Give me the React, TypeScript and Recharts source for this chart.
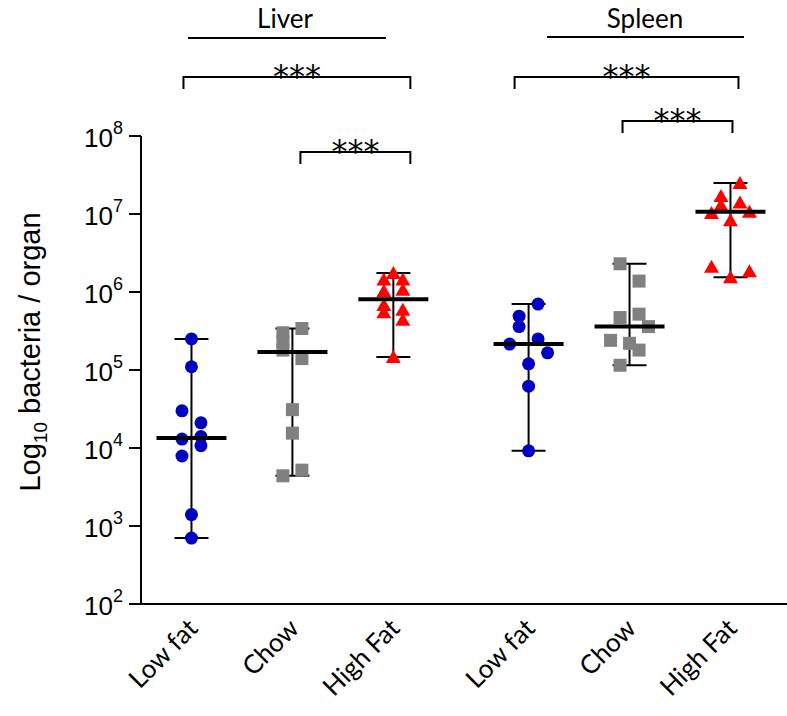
import React from 'react';
import { ScatterChart, Scatter, XAxis, YAxis } from 'recharts';

// ---- data ----
const categories = ['Low fat', 'Chow', 'High Fat', 'Low fat', 'Chow', 'High Fat'];
const organs = ['Liver', 'Spleen'];
const yTicks = [1e2, 1e3, 1e4, 1e5, 1e6, 1e7, 1e8];

// bacteria per organ, one value per mouse, with its jitter lane (-2..2)
const liverLowFat = [2.5e5, 1.1e5, 3.0e4, 2.1e4, 1.3e4, 1.4e4, 1.07e4, 7.9e3, 1.4e3, 7.0e2];
const liverLowFatLanes = [0, 0, -1, 1, -1, 1, 1, -1, 0, 0];
const liverChow = [3.4e5, 3.0e5, 2.3e5, 1.8e5, 1.4e5, 3.1e4, 1.55e4, 5.2e3, 4.4e3];
const liverChowLanes = [1, -1, -1, -1, 1, 0, 0, 1, -1];
const liverHighFat = [1.75e6, 1.45e6, 1.45e6, 1.03e6, 1.07e6, 6.8e5, 5.5e5, 5.9e5, 4.4e5, 1.47e5];
const liverHighFatLanes = [0, -1, 1, -1, 1, -1, -1, 1, 1, 0];
const spleenLowFat = [7.0e5, 4.9e5, 3.6e5, 2.15e5, 2.5e5, 1.66e5, 1.2e5, 6.2e4, 9.2e3];
const spleenLowFatLanes = [1, -1, -1, -2, 1, 2, 0, 0, 0];
const spleenChow = [2.3e6, 1.38e6, 4.7e5, 5.2e5, 3.6e5, 2.4e5, 2.2e5, 1.8e5, 1.15e5];
const spleenChowLanes = [-1, 1, -1, 1, 2, -2, 0, 1, -1];
const spleenHighFat = [2.5e7, 1.7e7, 1.4e7, 1.3e7, 1.07e7, 1.03e7, 8.3e6, 2.1e6, 1.85e6, 1.55e6];
const spleenHighFatLanes = [1, -1, 1, -1, 2, -2, 0, -2, 2, 0];

const medians = [1.34e4, 1.7e5, 8.1e5, 2.15e5, 3.6e5, 1.07e7];

// significance brackets between categories
const brackets = [
  { from: 0, to: 2, label: '***' },
  { from: 1, to: 2, label: '***' },
  { from: 3, to: 5, label: '***' },
  { from: 4, to: 5, label: '***' },
];

// ---- layout ----
const W = 787;
const H = 716;
const PLOT_LEFT = 141;
const PLOT_TOP = 136;
const PLOT_BOTTOM = 604;
const X_MIN = -0.5;
const X_MAX = 5.9;
const GROUP_GAP = 0.34;
const LANE = 0.094;

const catPos = categories.map((_, i) => i + (i >= 3 ? GROUP_GAP : 0));
const xPx = (p: number) => PLOT_LEFT + ((p - X_MIN) / (X_MAX - X_MIN)) * (W - PLOT_LEFT);

const BLUE = '#0000C0';
const GREY = '#808080';
const RED = '#FF0000';

const circle = (p: any) => <circle cx={p.cx} cy={p.cy} r={6.5} fill={BLUE} />;
const square = (p: any) => <rect x={p.cx - 6.5} y={p.cy - 6.5} width={13} height={13} fill={GREY} />;
const triangle = (p: any) => (
  <polygon
    points={`${p.cx},${p.cy - 7} ${p.cx + 7.5},${p.cy + 6} ${p.cx - 7.5},${p.cy + 6}`}
    fill={RED}
  />
);
const cap = (p: any) => (
  <line x1={p.cx - 17} x2={p.cx + 17} y1={p.cy} y2={p.cy} stroke="#000" strokeWidth={2} />
);
const medianBar = (p: any) => (
  <line x1={p.cx - 35} x2={p.cx + 35} y1={p.cy} y2={p.cy} stroke="#000" strokeWidth={4} />
);

const groups = [
  { values: liverLowFat, lanes: liverLowFatLanes, shape: circle },
  { values: liverChow, lanes: liverChowLanes, shape: square },
  { values: liverHighFat, lanes: liverHighFatLanes, shape: triangle },
  { values: spleenLowFat, lanes: spleenLowFatLanes, shape: circle },
  { values: spleenChow, lanes: spleenChowLanes, shape: square },
  { values: spleenHighFat, lanes: spleenHighFatLanes, shape: triangle },
];

const YTick = (props: any) => {
  const { x, y, payload } = props;
  const exp = Math.round(Math.log10(payload.value));
  return (
    <text x={x} y={y + 11} textAnchor="end" fontFamily="'Liberation Sans', Arial, sans-serif" fontSize={26} fill="#000">
      <tspan>10</tspan>
      <tspan dy={-13} fontSize={18}>{exp}</tspan>
    </text>
  );
};

const XTick = (props: any) => {
  const { x, y, payload } = props;
  const i = catPos.findIndex((p) => Math.abs(p - payload.value) < 1e-6);
  const ax = x + 8;
  const ay = y + 18;
  return (
    <text
      x={ax}
      y={ay}
      textAnchor="end"
      transform={`rotate(-45 ${ax} ${ay})`}
      fontFamily="Lato, 'Open Sans', sans-serif"
      fontSize={26}
      fill="#000"
    >
      {categories[i]}
    </text>
  );
};

const labelFont = "Lato, 'Open Sans', sans-serif";

const App = () => {
  // pixel extents / heights of the annotations above the plot
  const bracketBoxes = [
    { dx1: -8, dx2: 17, y: 77 },
    { dx1: 8, dx2: 17, y: 152 },
    { dx1: -14, dx2: 8, y: 77 },
    { dx1: -7, dx2: 2, y: 121 },
  ];
  const organLines = [
    { x1: 188, x2: 386, y: 38, tx: 285 },
    { x1: 547, x2: 744, y: 37, tx: 645 },
  ];
  return (
    <div style={{ position: 'absolute', left: 0, top: 0, width: W, height: H, background: '#fff' }}>
      <ScatterChart
        width={W}
        height={H}
        margin={{ top: PLOT_TOP, right: 0, bottom: 12, left: 0 }}
      >
        <XAxis
          type="number"
          dataKey="x"
          domain={[X_MIN, X_MAX]}
          ticks={catPos}
          interval={0}
          allowDataOverflow
          height={H - PLOT_BOTTOM - 12}
          tickLine={false}
          axisLine={{ stroke: '#000', strokeWidth: 2 }}
          tick={<XTick />}
        />
        <YAxis
          type="number"
          dataKey="y"
          scale="log"
          domain={[1e2, 1e8]}
          ticks={yTicks}
          interval={0}
          allowDataOverflow
          width={PLOT_LEFT}
          tickSize={12}
          tickMargin={6}
          tickLine={{ stroke: '#000', strokeWidth: 2 }}
          axisLine={{ stroke: '#000', strokeWidth: 2 }}
          tick={<YTick />}
        />
        {groups.map((g, i) => {
          const lo = Math.min(...g.values);
          const hi = Math.max(...g.values);
          return (
            <Scatter
              key={`range-${i}`}
              data={[{ x: catPos[i], y: lo }, { x: catPos[i], y: hi }]}
              line={{ stroke: '#000', strokeWidth: 2 }}
              shape={cap}
              isAnimationActive={false}
            />
          );
        })}
        {groups.map((g, i) => (
          <Scatter
            key={`pts-${i}`}
            data={g.values.map((v, j) => ({ x: catPos[i] + g.lanes[j] * LANE, y: v }))}
            shape={g.shape}
            isAnimationActive={false}
          />
        ))}
        <Scatter
          data={medians.map((m, i) => ({ x: catPos[i], y: m }))}
          shape={medianBar}
          isAnimationActive={false}
        />
      </ScatterChart>
      <svg
        width={W}
        height={H}
        style={{ position: 'absolute', left: 0, top: 0, pointerEvents: 'none' }}
      >
        <text
          transform={`translate(40, 352) rotate(-90)`}
          textAnchor="middle"
          fontFamily="'Liberation Sans', Arial, sans-serif"
          fontSize={29}
          fill="#000"
        >
          <tspan>Log</tspan>
          <tspan dy={7} fontSize={19}>10</tspan>
          <tspan dy={-7}> bacteria / organ</tspan>
        </text>
        {organs.map((o, i) => (
          <g key={o}>
            <text x={organLines[i].tx} y={28} textAnchor="middle" fontFamily={labelFont} fontSize={26} fill="#000">
              {o}
            </text>
            <line x1={organLines[i].x1} x2={organLines[i].x2} y1={organLines[i].y} y2={organLines[i].y} stroke="#000" strokeWidth={2} />
          </g>
        ))}
        {brackets.map((b, i) => {
          const box = bracketBoxes[i];
          const x1 = xPx(catPos[b.from]) + box.dx1;
          const x2 = xPx(catPos[b.to]) + box.dx2;
          const y = box.y;
          return (
            <g key={i}>
              <path d={`M${x1},${y + 12} V${y} H${x2} V${y + 12}`} fill="none" stroke="#000" strokeWidth={2} />
              <text x={(x1 + x2) / 2} y={y + 10} textAnchor="middle" fontFamily="'DejaVu Sans', sans-serif" fontSize={32} fill="#000">
                {b.label}
              </text>
            </g>
          );
        })}
      </svg>
    </div>
  );
};

export default App;
